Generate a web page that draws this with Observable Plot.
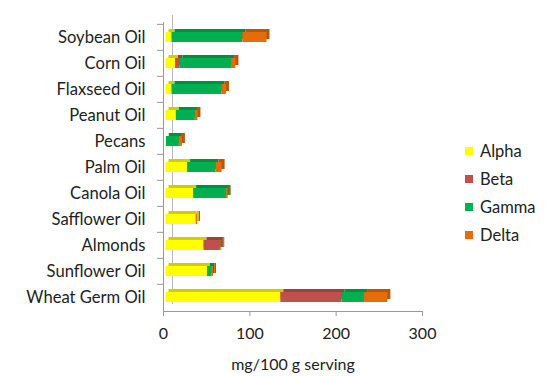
<!DOCTYPE html>
<html><head><meta charset="utf-8">
<script src="https://cdn.jsdelivr.net/npm/d3@7"></script>
<script src="https://cdn.jsdelivr.net/npm/@observablehq/plot@0.6"></script>
<style>
body{margin:0;background:#fff;font-family:Lato,sans-serif;}
#wrap{position:relative;width:559px;height:377px;}
#legend{position:absolute;left:465px;top:137px;font-size:16.5px;color:#222}
.item{display:flex;align-items:center;height:28px}
.sw{width:8px;height:8px;margin-right:7px}
</style></head><body><div id="wrap"><div id="chart"></div><div id="legend"></div></div>
<script>
const categories = ["Soybean Oil","Corn Oil","Flaxseed Oil","Peanut Oil","Pecans","Palm Oil","Canola Oil","Safflower Oil","Almonds","Sunflower Oil","Wheat Germ Oil"];
const series = ["Alpha","Beta","Gamma","Delta"];
const colors = ["#FFFF00","#C0504D","#00B050","#E46C0A"];
const alpha = [7, 11, 7, 12, 0.5, 25, 32, 35, 44, 48, 133];
const beta  = [0, 5, 0, 0, 0, 0, 0, 0, 19, 0, 71];
const gamma = [82, 60, 58, 22, 15, 33, 38, 0, 0.6, 5, 26];
const delta = [28, 5, 5, 3, 3.5, 7, 2, 1.5, 1, 2, 27];
const xTicks = [0, 100, 200, 300];
const xLabel = "mg/100 g serving";

const seriesValues = [alpha, beta, gamma, delta];
const rows = [];
categories.forEach((c, i) => series.forEach((s, j) => rows.push({name: c, type: s, value: seriesValues[j][i]})));
const front = Object.fromEntries(series.map((s, j) => [s, colors[j]]));
const back = Object.fromEntries(series.map((s, j) => [s, d3.color(colors[j]).darker(0.6).formatHex()]));

const step = (377 - 22 - 66) / categories.length;

const chart = Plot.plot({
  width: 559, height: 377,
  marginLeft: 163, marginRight: 137, marginTop: 22, marginBottom: 66,
  x: {domain: [0, 300], label: null},
  y: {domain: categories, paddingInner: 0.62, paddingOuter: 0.31, label: null},
  color: {type: "identity"},
  style: {fontFamily: "Lato, sans-serif", fontSize: "16px", color: "#222", background: "#fff"},
  marks: [
    Plot.ruleX([0], {dx: 9, dy: -7, stroke: "#bbb"}),
    Plot.barX(rows, Plot.stackX({y: "name", x: "value", z: "type", fill: d => back[d.type], dx: 5.5, dy: -3})),
    Plot.barX(rows, Plot.stackX({y: "name", x: "value", z: "type", fill: d => front[d.type], dx: 2.5})),
    Plot.ruleX([0], {stroke: "#999"}),
    Plot.frame({anchor: "bottom", stroke: "#999"}),
    Plot.axisY({tickSize: 6, text: null, dy: -step / 2, stroke: "#999"}),
    Plot.axisY({tickSize: 0, tickPadding: 18, fontSize: 16.6}),
    Plot.axisX({ticks: xTicks, tickSize: 5, tickPadding: 11, stroke: "#999", fontSize: 16,
      label: xLabel, labelAnchor: "center", labelArrow: "none", labelOffset: 58})
  ]
});
document.getElementById("chart").append(chart);

const legend = document.getElementById("legend");
series.forEach((s, j) => {
  const it = document.createElement("div"); it.className = "item";
  const sw = document.createElement("div"); sw.className = "sw"; sw.style.background = colors[j];
  const t = document.createElement("span"); t.textContent = s;
  it.append(sw, t); legend.append(it);
});
</script></body></html>
